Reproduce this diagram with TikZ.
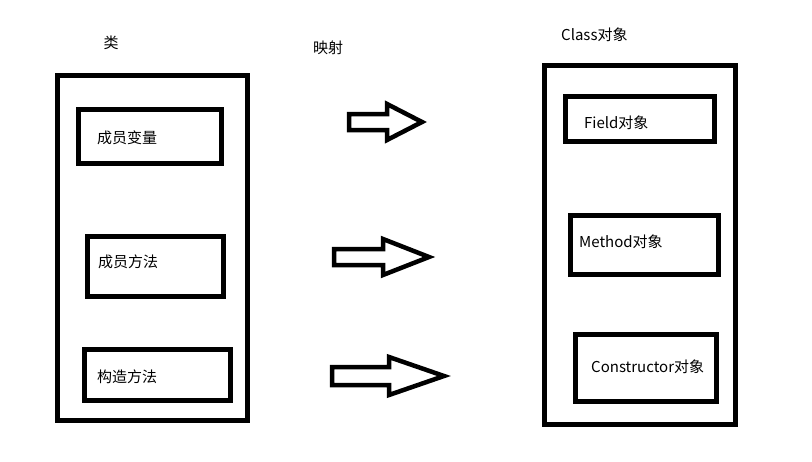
\documentclass[tikz,border=0pt]{standalone}
\usepackage{fontspec}
\setmainfont{Noto Sans CJK SC}

% 空心箭头：左端x，箭头根部x，尖端x，中心y，杆半高，头半高
\newcommand{\hollowarrow}[6]{%
  \draw[line width=4.5pt, line join=miter]
    (#1, #4-#5) -- (#2, #4-#5) -- (#2, #4-#6) -- (#3, #4)
    -- (#2, #4+#6) -- (#2, #4+#5) -- (#1, #4+#5) -- cycle;}

\begin{document}
\begin{tikzpicture}[x=1pt, y=-1pt,
    kuang/.style={draw, line width=5pt, inner sep=0pt},
    wenzi/.style={inner sep=0pt, font=\fontsize{15}{17}\selectfont}]
  \useasboundingbox (0,0) rectangle (812,461);

  % 左边：类
  \node[kuang, minimum width=190pt, minimum height=344.5pt] (clsbox) at (152.5, 247.75) {};
  \node[kuang, minimum width=143pt, minimum height=53.5pt] (varbox) at (150, 136.25) {};
  \node[kuang, minimum width=136pt, minimum height=60pt] (methbox) at (155.5, 266.5) {};
  \node[kuang, minimum width=146pt, minimum height=51pt] (ctorbox) at (157.5, 375) {};

  \node[wenzi]              (clslabel) at (111, 43)  {类};
  \node[wenzi, anchor=west] (vartext)  at (97, 138)  {成员变量};
  \node[wenzi, anchor=west] (methtext) at (98, 262)  {成员方法};
  \node[wenzi, anchor=west] (ctortext) at (97, 377)  {构造方法};

  % 中间：映射
  \node[wenzi, anchor=west] (maplabel) at (313, 48) {映射};
  \hollowarrow{349}{387}{422}{122}{8}{18}
  \hollowarrow{334}{383}{429}{257}{8}{18}
  \hollowarrow{332}{389}{444}{376}{9}{19}

  % 右边：Class对象
  \node[kuang, minimum width=191pt, minimum height=359pt] (objbox) at (640, 245) {};
  \node[kuang, minimum width=149pt, minimum height=45pt] (fieldbox) at (640, 119) {};
  \node[kuang, minimum width=148pt, minimum height=59pt] (methodbox) at (644.5, 245) {};
  \node[kuang, minimum width=141pt, minimum height=67pt] (consbox) at (646, 368) {};

  \node[wenzi, anchor=west] (objlabel)   at (561, 35)  {Class对象};
  \node[wenzi, anchor=west] (fieldtext)  at (584, 123) {Field对象};
  \node[wenzi, anchor=west] (methodtext) at (579, 242) {Method对象};
  \node[wenzi, anchor=west] (constext)   at (591, 367) {Constructor对象};
\end{tikzpicture}
\end{document}
